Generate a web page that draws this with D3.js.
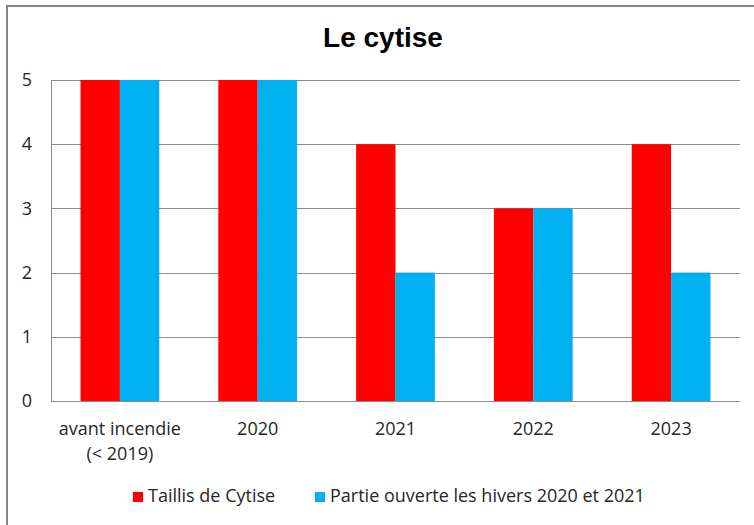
<!DOCTYPE html>
<html>
<head>
<meta charset="utf-8">
<script src="https://cdn.jsdelivr.net/npm/d3@7"></script>
<style>
  body { margin: 0; background: #fff; }
  text { font-family: "Open Sans", Lato, sans-serif; fill: #262626; }
  .title { font-family: "Liberation Sans", Arial, sans-serif; font-weight: bold; fill: #000; }
</style>
</head>
<body>
<script>
var categories = ["avant incendie\n(< 2019)", "2020", "2021", "2022", "2023"];
var taillis = [5, 5, 4, 3, 4];
var partie = [5, 5, 2, 3, 2];
var seriesNames = ["Taillis de Cytise", "Partie ouverte les hivers 2020 et 2021"];
var seriesColors = ["#ff0000", "#00b0f0"];
var yTicks = [0, 1, 2, 3, 4, 5];

var WIDTH = 754, HEIGHT = 525;
var LEFT = 51, RIGHT = 740, TOP = 80, BOTTOM = 401;
var FONT = "18px";

var svg = d3.select("body").append("svg")
    .attr("width", WIDTH)
    .attr("height", HEIGHT);

// chart border (only left and top are visible in the crop)
svg.append("rect")
    .attr("x", 7).attr("y", 6)
    .attr("width", 800).attr("height", 600)
    .attr("fill", "#fff")
    .attr("stroke", "#868686")
    .attr("stroke-width", 2);

svg.append("text")
    .attr("class", "title")
    .attr("x", 383).attr("y", 47)
    .attr("text-anchor", "middle")
    .style("font-size", "28px")
    .text("Le cytise");

var x0 = d3.scaleBand().domain(d3.range(categories.length)).range([LEFT, RIGHT]);
// gap width 150% => the two bars take 2 / 3.5 of each band
var barW = x0.bandwidth() / 3.5;
var y = d3.scaleLinear().domain([0, 5]).range([BOTTOM, TOP]);

// gridlines
svg.append("g").selectAll("line")
    .data(yTicks.filter(function (d) { return d > 0; }))
    .enter().append("line")
    .attr("x1", LEFT).attr("x2", RIGHT)
    .attr("y1", function (d) { return Math.round(y(d)) + 0.5; })
    .attr("y2", function (d) { return Math.round(y(d)) + 0.5; })
    .attr("stroke", "#8c8c8c");

// y axis
var yAxis = d3.axisLeft(y).tickValues(yTicks).tickFormat(d3.format("d")).tickSize(0).tickPadding(19);
var ya = svg.append("g").attr("transform", "translate(" + LEFT + ",0)").call(yAxis);
ya.select(".domain").attr("stroke", "#8c8c8c");
ya.selectAll("text").style("font-size", FONT).style("font-family", "'Open Sans', sans-serif").attr("fill", "#262626");

// bars
var series = [taillis, partie];
series.forEach(function (vals, s) {
    svg.append("g").selectAll("rect")
        .data(vals)
        .enter().append("rect")
        .attr("x", function (d, i) { return x0(i) + x0.bandwidth() / 2 - barW + s * barW; })
        .attr("width", barW)
        .attr("y", function (d) { return y(d); })
        .attr("height", function (d) { return y(0) - y(d); })
        .attr("fill", seriesColors[s]);
});

// x axis
svg.append("line")
    .attr("x1", LEFT).attr("x2", RIGHT)
    .attr("y1", BOTTOM + 0.5).attr("y2", BOTTOM + 0.5)
    .attr("stroke", "#8c8c8c");

var xl = svg.append("g").selectAll("text")
    .data(categories)
    .enter().append("text")
    .attr("text-anchor", "middle")
    .attr("x", function (d, i) { return x0(i) + x0.bandwidth() / 2; })
    .attr("y", 435)
    .style("font-size", FONT);
xl.each(function (d) {
    var t = d3.select(this), xx = t.attr("x");
    d.split("\n").forEach(function (line, k) {
        t.append("tspan").attr("x", xx).attr("dy", k === 0 ? 0 : 25).text(line);
    });
});

// legend
var legendX = [133, 315];
var lg = svg.append("g").selectAll("g")
    .data(seriesNames)
    .enter().append("g")
    .attr("transform", function (d, i) { return "translate(" + legendX[i] + ",492)"; });
lg.append("rect")
    .attr("width", 10).attr("height", 10)
    .attr("fill", function (d, i) { return seriesColors[i]; });
lg.append("text")
    .attr("x", 15).attr("y", 10)
    .style("font-size", FONT)
    .text(function (d) { return d; });
</script>
</body>
</html>
